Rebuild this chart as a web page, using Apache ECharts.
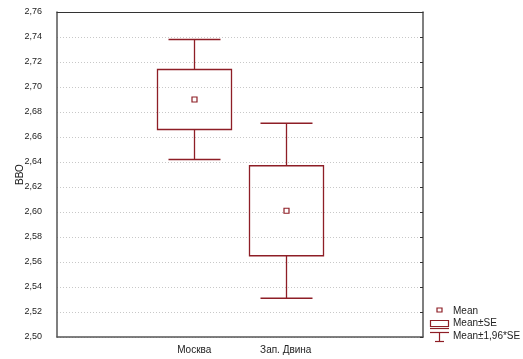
<!DOCTYPE html>
<html>
<head>
<meta charset="utf-8">
<script src="https://cdn.jsdelivr.net/npm/echarts@6/dist/echarts.min.js"></script>
<style>
  html, body { margin: 0; padding: 0; background: #fff; }
  #chart { width: 523px; height: 359px; }
</style>
</head>
<body>
<div id="chart"></div>
<script>
// Groups and per-group summary statistics (ВВО)
const groups = ['Москва', 'Зап. Двина'];
const means  = [2.690, 2.601];
const seLow  = [2.666, 2.565];   // Mean - SE
const seHigh = [2.714, 2.637];   // Mean + SE
const ciLow  = [2.642, 2.531];   // Mean - 1,96*SE
const ciHigh = [2.738, 2.671];   // Mean + 1,96*SE

// Y axis range
const yMin = 2.50, yMax = 2.76, yStep = 0.02;

// Padding slots on both sides so the two groups sit in the middle of the plot
const categories = [''].concat(groups, ['']);

const RED = '#8e1e26';
const FONT = 'Liberation Sans, Arial, sans-serif';

const boxData = groups.map((g, i) => [i + 1, ciLow[i], seLow[i], means[i], seHigh[i], ciHigh[i]]);

function renderBox(params, api) {
  const x = api.value(0);
  const pLo = api.coord([x, api.value(1)]);
  const pSeLo = api.coord([x, api.value(2)]);
  const pMean = api.coord([x, api.value(3)]);
  const pSeHi = api.coord([x, api.value(4)]);
  const pHi = api.coord([x, api.value(5)]);
  const cx = Math.round(pMean[0]) + 0.5;
  const boxHalf = 37, capHalf = 26, m = 2.5;
  const ls = { stroke: RED, lineWidth: 1.3, fill: null };
  return {
    type: 'group',
    children: [
      { type: 'rect', shape: { x: cx - boxHalf, y: pSeHi[1], width: boxHalf * 2, height: pSeLo[1] - pSeHi[1] },
        style: { stroke: RED, lineWidth: 1.3, fill: 'rgba(0,0,0,0)' } },
      { type: 'line', shape: { x1: cx, y1: pSeHi[1], x2: cx, y2: pHi[1] }, style: ls },
      { type: 'line', shape: { x1: cx, y1: pSeLo[1], x2: cx, y2: pLo[1] }, style: ls },
      { type: 'line', shape: { x1: cx - capHalf, y1: pHi[1], x2: cx + capHalf, y2: pHi[1] }, style: ls },
      { type: 'line', shape: { x1: cx - capHalf, y1: pLo[1], x2: cx + capHalf, y2: pLo[1] }, style: ls },
      { type: 'rect', shape: { x: cx - m, y: pMean[1] - m, width: m * 2, height: m * 2 },
        style: { stroke: RED, lineWidth: 1.2, fill: '#fff' } }
    ]
  };
}

const showTick = (idx, val) => val !== '';

const chart = echarts.init(document.getElementById('chart'), null, { renderer: 'canvas' });
chart.setOption({
  animation: false,
  backgroundColor: '#fff',
  grid: { left: 57, right: 100, top: 12, bottom: 22 },
  xAxis: [
    {
      type: 'category', data: categories, position: 'bottom', boundaryGap: true,
      axisLine: { lineStyle: { color: '#555', width: 1.5 } },
      axisTick: { inside: true, length: 3, alignWithLabel: true, interval: showTick, lineStyle: { color: '#333' } },
      axisLabel: { color: '#222', fontFamily: FONT, fontSize: 10, margin: 8, interval: 0 },
      splitLine: { show: false }
    },
    {
      type: 'category', data: categories, position: 'top', boundaryGap: true,
      axisLine: { lineStyle: { color: '#333', width: 1 } },
      axisTick: { inside: true, length: 3, alignWithLabel: true, interval: showTick, lineStyle: { color: '#333' } },
      axisLabel: { show: false },
      splitLine: { show: false }
    }
  ],
  yAxis: [
    {
      type: 'value', min: yMin, max: yMax, interval: yStep, position: 'left',
      name: 'ВВО', nameLocation: 'middle', nameGap: 32, nameRotate: 90, nameMoveOverlap: false,
      nameTextStyle: { color: '#222', fontFamily: FONT, fontSize: 10 },
      axisLine: { show: true, lineStyle: { color: '#555', width: 1.5 } },
      axisTick: { show: false },
      axisLabel: { color: '#222', fontFamily: FONT, fontSize: 9, margin: 15,
        formatter: v => v.toFixed(2).replace('.', ',') },
      splitLine: { show: true, lineStyle: { color: '#c8c8c8', type: [1, 2], width: 1 } }
    },
    {
      type: 'value', min: yMin, max: yMax, interval: yStep, position: 'right',
      axisLine: { show: true, lineStyle: { color: '#555', width: 1.5 } },
      axisTick: { show: true, inside: true, length: 3, lineStyle: { color: '#333' } },
      axisLabel: { show: false },
      splitLine: { show: false }
    }
  ],
  series: [
    {
      type: 'custom', name: 'Mean±1,96*SE', xAxisIndex: 0, yAxisIndex: 0,
      data: boxData, renderItem: renderBox,
      encode: { x: 0, y: [1, 2, 3, 4, 5] }
    }
  ],
  graphic: [
    // Legend
    { type: 'rect', shape: { x: 437, y: 308, width: 5, height: 4 }, style: { stroke: RED, lineWidth: 1.2, fill: '#fff' } },
    { type: 'text', left: 453, top: 306, style: { text: 'Mean', fill: '#222', font: '10px ' + FONT } },
    { type: 'rect', shape: { x: 430.5, y: 320.5, width: 18, height: 6 }, style: { stroke: RED, lineWidth: 1.2, fill: '#fff' } },
    { type: 'line', shape: { x1: 430, y1: 328.5, x2: 449, y2: 328.5 }, style: { stroke: RED, lineWidth: 1.2 } },
    { type: 'text', left: 453, top: 318.5, style: { text: 'Mean±SE', fill: '#222', font: '10px ' + FONT } },
    { type: 'line', shape: { x1: 430, y1: 332.5, x2: 449, y2: 332.5 }, style: { stroke: RED, lineWidth: 1.2 } },
    { type: 'line', shape: { x1: 439.5, y1: 332.5, x2: 439.5, y2: 341.5 }, style: { stroke: RED, lineWidth: 1.2 } },
    { type: 'line', shape: { x1: 435, y1: 341.5, x2: 444, y2: 341.5 }, style: { stroke: RED, lineWidth: 1.2 } },
    { type: 'text', left: 453, top: 331, style: { text: 'Mean±1,96*SE', fill: '#222', font: '10px ' + FONT } }
  ]
});
</script>
</body>
</html>
